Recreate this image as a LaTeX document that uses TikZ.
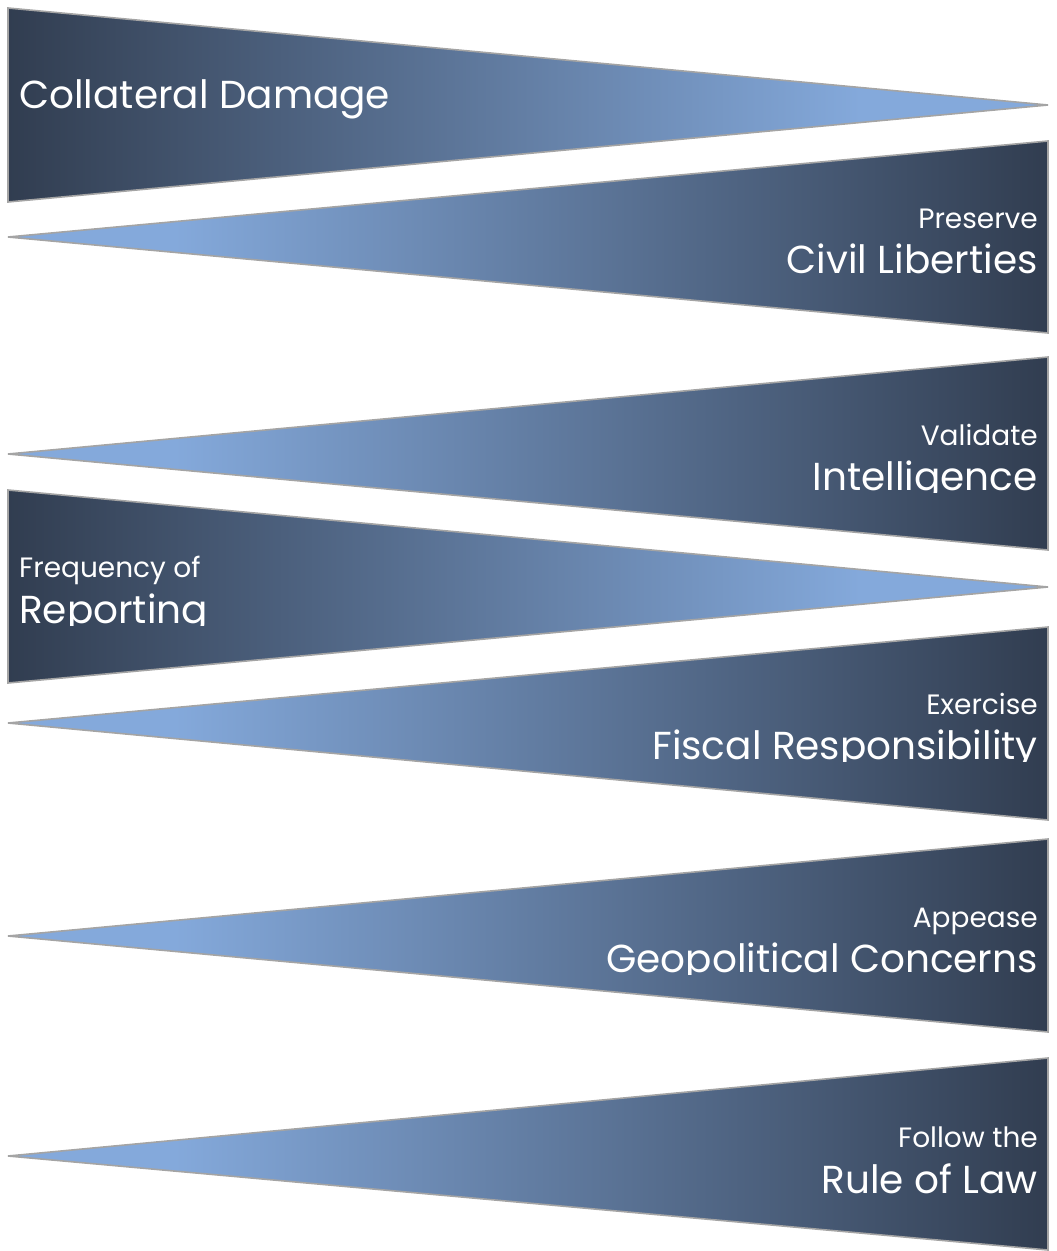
\documentclass[tikz,border=0pt]{standalone}
\usepackage{fontspec}
\setmainfont{Poppins}
\usepackage{xcolor}
\usepackage{tikz}

\definecolor{wdark}{HTML}{313D50}
\definecolor{wlight}{HTML}{84A9DB}
\definecolor{wedgeline}{HTML}{A4A4A4}
% dark base on the left, light tip on the right, and the reverse
\pgfdeclarehorizontalshading{fadetoright}{100bp}{color(0bp)=(wdark); color(25bp)=(wdark); color(66bp)=(wlight); color(75bp)=(wlight); color(100bp)=(wlight)}
\pgfdeclarehorizontalshading{fadetoleft}{100bp}{color(0bp)=(wlight); color(25bp)=(wlight); color(33bp)=(wlight); color(75bp)=(wdark); color(100bp)=(wdark)}

\begin{document}
\begin{tikzpicture}[x=1pt,y=-1pt,
 wedge/.style={draw=wedgeline,line width=1.6pt},
 big/.style={text=white,inner sep=0pt,font=\fontsize{39}{39}\selectfont},
 small/.style={text=white,inner sep=0pt,font=\fontsize{28}{28}\selectfont}]
\useasboundingbox (0,0) rectangle (1057,1251);
% wedges
\shadedraw[wedge,shading=fadetoright] (8,8) -- (1048,105) -- (8,202) -- cycle;
\shadedraw[wedge,shading=fadetoleft] (1048,141) -- (1048,333) -- (8,237) -- cycle;
\shadedraw[wedge,shading=fadetoleft] (1048,357) -- (1048,550) -- (8,454) -- cycle;
\shadedraw[wedge,shading=fadetoright] (8,490) -- (1048,587) -- (8,683) -- cycle;
\shadedraw[wedge,shading=fadetoleft] (1048,627) -- (1048,820) -- (8,723) -- cycle;
\shadedraw[wedge,shading=fadetoleft] (1048,839) -- (1048,1032) -- (8,936) -- cycle;
\shadedraw[wedge,shading=fadetoleft] (1048,1058) -- (1048,1250) -- (8,1156) -- cycle;
% labels
\node[big,anchor=base west] (damage) at (19,108) {Collateral Damage};
\node[small,anchor=base east] (preserve) at (1038,228) {Preserve};
\node[big,anchor=base east] (liberties) at (1038,273) {Civil Liberties};
\node[small,anchor=base east] (validate) at (1038,445) {Validate};
\begin{scope}
\clip (500,400) rectangle (1046,492);
\node[big,anchor=base east] (intel) at (1038,490) {Intelligence};
\end{scope}
\node[small,anchor=base west] (frequency) at (19,577) {Frequency of};
\begin{scope}
\clip (12,540) rectangle (500,625);
\node[big,anchor=base west] (reporting) at (19,623) {Reporting};
\end{scope}
\node[small,anchor=base east] (exercise) at (1038,714) {Exercise};
\begin{scope}
\clip (500,670) rectangle (1046,761);
\node[big,anchor=base east] (fiscal) at (1038,759) {Fiscal Responsibility};
\end{scope}
\node[small,anchor=base east] (appease) at (1038,927) {Appease};
\begin{scope}
\clip (500,880) rectangle (1046,974);
\node[big,anchor=base east] (geo) at (1038,972) {Geopolitical Concerns};
\end{scope}
\node[small,anchor=base east] (follow) at (1038,1147) {Follow the};
\node[big,anchor=base east] (law) at (1038,1193) {Rule of Law};
\end{tikzpicture}
\end{document}
